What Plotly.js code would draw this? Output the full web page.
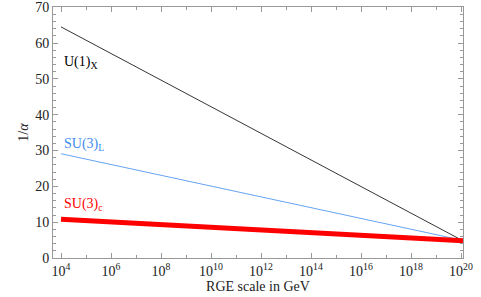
<!DOCTYPE html>
<html><head><meta charset="utf-8">
<script src="https://cdn.plot.ly/plotly-3.0.1.min.js"></script>
<style>html,body{margin:0;padding:0;background:#fff}#c{width:481px;height:297px}</style>
</head><body><div id="c"></div>
<script>
var scale = [1e4, 1.2e20];
var u1x = [64.5, 4.8];
var su3L = [29.1, 4.9];
var su3c = [10.8, 4.8];
var xTickVals = [1e4,1e6,1e8,1e10,1e12,1e14,1e16,1e18,1e20];
var xTickText = ['10<sup>4</sup>','10<sup>6</sup>','10<sup>8</sup>','10<sup>10</sup>','10<sup>12</sup>','10<sup>14</sup>','10<sup>16</sup>','10<sup>18</sup>','10<sup>20</sup>'];
var xMinorVals = [1e5,1e7,1e9,1e11,1e13,1e15,1e17,1e19];
var labels = ['U(1)<sub>X</sub>','SU(3)<sub>L</sub>','SU(3)<sub>c</sub>'];
var labelY = [54.6, 31.6, 14.8];
var colors = ['#000000','#3d8bf0','#ff0000'];

var fam = "Liberation Serif";
var font = {family:fam, size:14, color:'#222'};
var traces = [
  {x:scale, y:u1x, mode:'lines', line:{color:colors[0], width:0.8}},
  {x:scale, y:su3L, mode:'lines', line:{color:colors[1], width:0.8}},
  {x:scale, y:su3c, mode:'lines', line:{color:colors[2], width:5}}
];
var ann = labels.map(function(t,i){return {x:4.02, y:labelY[i], xref:'x', yref:'y', text:t, showarrow:false, xanchor:'left', yanchor:'middle', font:{family:fam, size:14, color:colors[i]}};});
var lc = '#999';
var layout = {
  width:481, height:297, margin:{l:53, r:18, t:7, b:39},
  showlegend:false, paper_bgcolor:'#fff', plot_bgcolor:'#fff', font:font,
  xaxis:{type:'log', range:[3.68, 20.08], tickmode:'array', tickvals:xTickVals, ticktext:xTickText,
    ticks:'inside', ticklen:5, tickcolor:lc, showgrid:false, zeroline:false, showline:true, linecolor:lc, linewidth:1, mirror:'ticks',
    minor:{tickmode:'array', tickvals:xMinorVals, ticks:'inside', ticklen:3, tickcolor:lc, showgrid:false},
    title:{text:'RGE scale in GeV', font:{family:fam, size:14, color:'#222'}, standoff:2}, tickfont:{family:fam, size:14, color:'#222'}},
  yaxis:{range:[0,70.05], tickmode:'array', tickvals:[0,10,20,30,40,50,60,70], ticks:'inside', ticklen:5, tickcolor:lc, showgrid:false, zeroline:false, showline:true, linecolor:lc, linewidth:1, mirror:'ticks',
    minor:{dtick:2, ticks:'inside', ticklen:3, tickcolor:lc, showgrid:false},
    title:{text:'1/<i>α</i>', font:{family:fam, size:14, color:'#222'}, standoff:3}, tickfont:{family:fam, size:14, color:'#222'}},
  annotations:ann
};
Plotly.newPlot('c', traces, layout, {staticPlot:true});
</script></body></html>
